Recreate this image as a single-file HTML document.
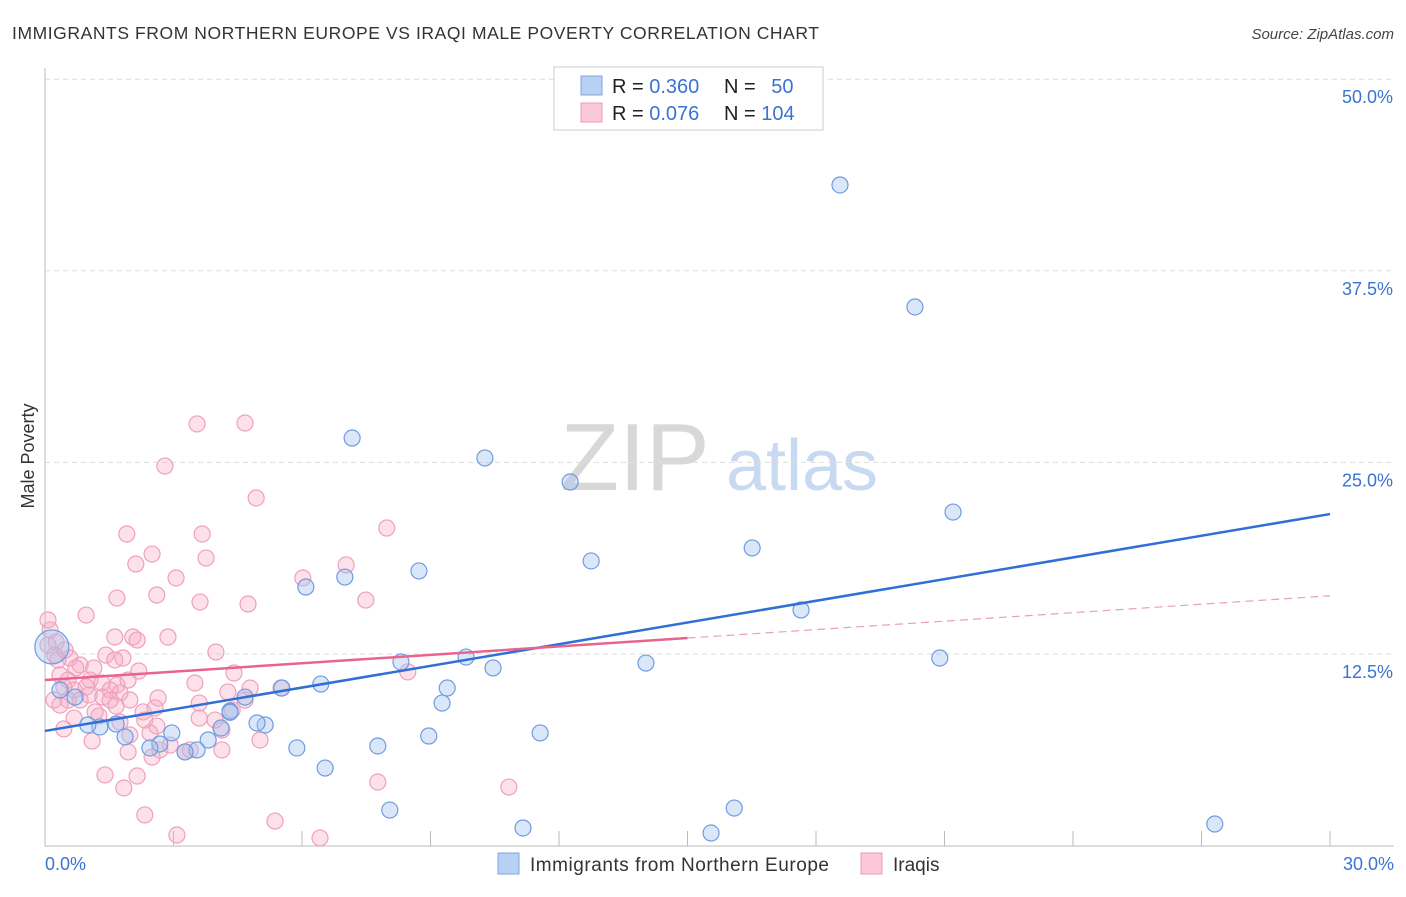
<!DOCTYPE html>
<html><head><meta charset="utf-8">
<style>
body{margin:0;background:#fff;font-family:"Liberation Sans",sans-serif;}
svg text{font-family:"Liberation Sans",sans-serif;}
</style></head>
<body>
<svg id="chart" width="1406" height="892" xmlns="http://www.w3.org/2000/svg">
<text x="12" y="39" font-size="17.5" fill="#333" textLength="807" lengthAdjust="spacing">IMMIGRANTS FROM NORTHERN EUROPE VS IRAQI MALE POVERTY CORRELATION CHART</text>
<text x="1394" y="39" font-size="15" fill="#444" text-anchor="end" font-style="italic">Source: ZipAtlas.com</text>
<text x="635" y="490" font-size="96" fill="#d8d8d8" text-anchor="middle" font-family="Liberation Serif, serif">ZIP</text>
<text x="802" y="490" font-size="72" fill="#c8daf2" text-anchor="middle">atlas</text>
<text transform="translate(34,456) rotate(-90)" font-size="18" fill="#333" text-anchor="middle">Male Poverty</text>
<g id="grid"></g><g id="pts"></g><g id="lines"></g>
<g>
<rect x="554" y="67" width="269" height="63" fill="#fff" stroke="#ccc"/>
<rect x="581" y="76" width="21" height="19" fill="#b8d1f3" stroke="#7ea6e0"/>
<rect x="581" y="103" width="21" height="19" fill="#fbc8d8" stroke="#ee9ab5"/>
<text x="612" y="93" font-size="20" fill="#222">R = <tspan fill="#3b73d1">0.360</tspan></text>
<text x="724" y="93" font-size="20" fill="#222">N = <tspan fill="#3b73d1" dx="10">50</tspan></text>
<text x="612" y="120" font-size="20" fill="#222">R = <tspan fill="#3b73d1">0.076</tspan></text>
<text x="724" y="120" font-size="20" fill="#222">N = <tspan fill="#3b73d1">104</tspan></text>
</g>
<g>
<rect x="498" y="853" width="21" height="21" fill="#b8d1f3" stroke="#7ea6e0"/>
<text x="530" y="871" font-size="19" fill="#333" textLength="299" lengthAdjust="spacing">Immigrants from Northern Europe</text>
<rect x="861" y="853" width="21" height="21" fill="#fbc8d8" stroke="#ee9ab5"/>
<text x="893" y="871" font-size="19" fill="#333">Iraqis</text>
</g>
</svg>
<script>
const xTicksLabels=["0.0%","30.0%"];
const yTicks=[12.5,25,37.5,50];
const yTickLabels=["12.5%","25.0%","37.5%","50.0%"];
const blueX=[18.56,20.31,7.17,10.27,12.26,21.20,12.75,16.51,8.73,7.00,6.09,17.65,20.89,14.03,10.46,9.83,8.31,6.44,9.39,9.27,5.53,4.67,4.32,5.14,4.95,4.11,3.81,2.96,3.55,3.27,2.68,2.45,1.87,1.66,1.28,1.00,5.88,6.54,7.77,8.96,11.56,8.05,11.16,16.09,15.55,27.31,0.35,0.70,4.32];
const blueY=[43.10,35.14,26.59,25.29,23.72,21.76,18.57,19.42,17.92,17.52,16.87,15.37,12.24,11.91,11.59,12.30,11.98,10.54,10.28,9.30,10.28,9.69,8.78,7.87,8.00,7.67,6.89,7.35,6.24,6.11,6.63,6.37,7.09,7.93,7.74,7.87,6.37,5.06,6.50,7.15,7.35,2.32,1.15,2.45,0.82,1.41,10.15,9.69,8.70];
const blueBig=[0.16,12.96];
const pinkX=[3.55,4.67,2.80,4.93,7.98,1.91,3.67,2.50,3.76,2.12,7.03,3.06,6.02,1.68,2.61,3.62,4.74,7.49,0.96,1.63,2.05,2.87,2.15,0.26,3.99,0.07,0.23,0.58,1.42,1.82,0.82,1.14,2.19,4.41,8.47,0.35,0.54,1.05,1.33,1.68,1.94,3.50,5.51,0.68,0.96,1.52,0.21,0.54,1.03,1.35,1.75,2.64,4.27,4.67,0.35,1.66,2.29,2.57,3.60,4.37,0.68,1.26,1.75,2.33,2.61,3.60,0.44,1.10,1.98,2.45,4.13,5.02,2.68,3.27,4.13,1.94,2.50,1.40,2.15,1.84,7.77,10.83,2.33,5.37,3.08,6.42,0.12,0.30,0.44,0.82,1.17,1.52,1.98,0.07,4.79,3.97,3.39,2.92,1.63,0.47,0.72];
const pinkY=[27.51,27.57,24.76,22.68,20.72,20.33,20.33,19.02,18.76,18.37,18.31,17.46,17.46,16.15,16.35,15.89,15.76,16.02,15.04,13.61,13.61,13.61,13.41,13.28,12.63,13.09,12.43,12.24,12.43,12.24,11.78,11.59,11.39,11.26,11.33,11.13,10.80,10.80,10.61,10.48,10.80,10.61,10.28,10.15,10.35,10.15,9.50,9.50,9.83,9.69,9.96,9.63,10.02,9.50,9.17,9.11,8.72,8.98,9.30,8.85,8.32,8.46,8.06,8.19,7.80,8.32,7.61,6.82,7.22,7.35,7.54,6.89,6.24,6.11,6.24,6.11,5.78,4.61,4.54,3.76,4.15,3.82,2.00,1.60,0.69,0.50,14.07,12.11,10.35,9.50,8.72,9.50,9.50,14.72,10.28,8.19,6.24,6.56,12.11,12.76,11.59];
const blueTrend=[[0,7.48],[30,21.63]];
const pinkTrend=[[0,10.8],[15,13.54]];
const pinkTrendExt=[[15,13.54],[30,16.3]];
const X=v=>45+v/30*1285, Y=v=>845.6-v/12.5*191.6;
const NS="http://www.w3.org/2000/svg";
function mk(tag,attrs,parent){const e=document.createElementNS(NS,tag);for(const k in attrs)e.setAttribute(k,attrs[k]);parent.appendChild(e);return e;}
const grid=document.getElementById('grid');
yTicks.forEach((t,i)=>{
  const l=mk('line',{x1:45,x2:1394,y1:Y(t),y2:Y(t),stroke:'#ddd','stroke-dasharray':'5,4'},grid);
  
  
  const tx=mk('text',{x:1393,y:Y(t)+24,'font-size':18,fill:'#3b73d1','text-anchor':'end'},grid);tx.textContent=yTickLabels[i];
  
  
});
let ax=mk('line',{x1:45,x2:45,y1:68,y2:846,stroke:'#bbb'},grid);


ax=mk('line',{x1:45,x2:1394,y1:846,y2:846,stroke:'#bbb'},grid);


for(let k=1;k<=10;k++){const t=mk('line',{x1:X(k*3),x2:X(k*3),y1:831,y2:846,stroke:'#bbb'},grid);
  
  }
[[0,'start',45],[1,'end',1394]].forEach(([i,a,x])=>{const t=mk('text',{x:x,y:870,'font-size':18,fill:'#3b73d1','text-anchor':a},grid);t.textContent=xTicksLabels[i];
  
  });
const pts=document.getElementById('pts');
pinkX.forEach((x,i)=>{const c=mk('circle',{cx:X(x),cy:Y(pinkY[i]),r:8,fill:'rgba(247,170,195,0.35)',stroke:'#f0a0ba','stroke-width':1.2},pts);
  
  });
blueX.forEach((x,i)=>{const c=mk('circle',{cx:X(x),cy:Y(blueY[i]),r:8,fill:'rgba(160,195,240,0.4)',stroke:'#6f9be0','stroke-width':1.2},pts);
  
  });
const bb=mk('circle',{cx:X(blueBig[0]),cy:Y(blueBig[1]),r:17,fill:'rgba(160,195,240,0.4)',stroke:'#6f9be0','stroke-width':1.2},pts);


const lines=document.getElementById('lines');
let l=mk('line',{x1:X(blueTrend[0][0]),y1:Y(blueTrend[0][1]),x2:X(blueTrend[1][0]),y2:Y(blueTrend[1][1]),stroke:'#2f6fd6','stroke-width':2.5},lines);


l=mk('line',{x1:X(pinkTrend[0][0]),y1:Y(pinkTrend[0][1]),x2:X(pinkTrend[1][0]),y2:Y(pinkTrend[1][1]),stroke:'#e8648f','stroke-width':2.5},lines);


l=mk('line',{x1:X(pinkTrendExt[0][0]),y1:Y(pinkTrendExt[0][1]),x2:X(pinkTrendExt[1][0]),y2:Y(pinkTrendExt[1][1]),stroke:'#e8a0b6','stroke-width':1.2,'stroke-dasharray':'8,5'},lines);


</script>
</body></html>
